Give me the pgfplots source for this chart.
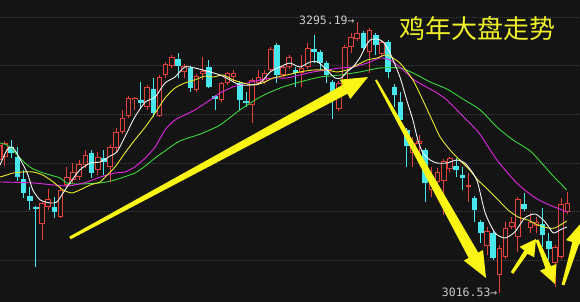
\documentclass[border=0pt]{standalone}
\usepackage{pgfplots}
\pgfplotsset{compat=1.18}
\usepackage{pgfplotstable}
\usepackage{fontspec}
\newfontfamily\cjk{Noto Sans CJK SC}
\newfontfamily\monofont{DejaVu Sans Mono}

\definecolor{bg}{RGB}{20,20,20}
\definecolor{gridc}{RGB}{64,64,64}
\definecolor{upred}{RGB}{226,66,58}
\definecolor{downcyan}{RGB}{70,232,238}
\definecolor{ma5}{RGB}{245,245,245}
\definecolor{ma10}{RGB}{235,235,50}
\definecolor{ma20}{RGB}{225,40,225}
\definecolor{ma30}{RGB}{60,215,60}
\definecolor{arrowy}{RGB}{250,245,20}
\definecolor{titley}{RGB}{240,240,40}
\definecolor{labelgray}{RGB}{200,200,200}

% rising days: index, open, high, low, close
\pgfplotstableread{
x o h l c
-1 3153.3 3173.9 3148.2 3168.7
0 3156.4 3172.9 3147.2 3170.8
6 3087.5 3110.1 3071.1 3109.1
7 3105.0 3123.5 3101.9 3113.2
9 3094.7 3125.6 3093.7 3122.5
10 3127.6 3146.1 3125.6 3135.8
11 3132.8 3150.2 3129.7 3141.0
12 3135.8 3153.3 3132.8 3149.2
13 3148.2 3163.6 3145.1 3158.5
15 3143.0 3161.5 3137.9 3156.4
17 3146.1 3168.7 3130.7 3166.7
18 3165.7 3186.2 3161.5 3182.1
19 3182.1 3204.7 3180.0 3196.5
20 3198.6 3219.1 3196.5 3217.1
21 3215.0 3218.1 3204.7 3217.1
23 3207.8 3230.4 3204.7 3228.4
25 3198.6 3240.7 3197.5 3238.6
26 3240.7 3254.1 3237.6 3252.0
27 3250.0 3261.3 3247.9 3259.2
29 3243.8 3252.0 3237.6 3250.0
31 3225.3 3241.7 3223.2 3239.7
32 3241.7 3259.2 3235.6 3244.8
35 3215.0 3233.5 3212.9 3232.5
36 3232.5 3243.8 3230.4 3242.8
37 3238.6 3245.8 3233.5 3242.8
40 3209.9 3237.6 3191.4 3235.6
41 3232.5 3245.8 3230.4 3238.6
42 3233.5 3245.8 3231.4 3242.8
43 3245.8 3269.5 3243.8 3267.4
45 3240.7 3251.0 3238.6 3248.9
46 3248.9 3261.3 3246.9 3259.2
48 3242.8 3261.3 3228.4 3247.9
49 3248.9 3273.6 3246.9 3268.5
54 3205.7 3234.5 3203.7 3232.5
55 3233.5 3271.5 3231.4 3269.5
56 3269.5 3283.9 3263.3 3279.8
57 3277.7 3295.19 3275.7 3283.9
59 3264.3 3289.0 3242.8 3287.0
61 3262.3 3276.7 3260.2 3274.6
66 3160.5 3177.0 3146.1 3170.8
67 3169.8 3179.0 3156.4 3172.9
69 3122.5 3146.1 3115.3 3132.8
70 3130.7 3145.1 3128.6 3141.0
71 3131.7 3154.3 3096.8 3152.3
72 3144.1 3156.4 3141.0 3155.4
75 3125.6 3139.9 3110.1 3127.6
78 3064.9 3084.4 3055.7 3080.3
80 3035.1 3065.9 3016.53 3062.9
81 3053.6 3089.6 3051.5 3083.4
82 3084.4 3094.7 3082.4 3089.6
83 3074.2 3115.3 3058.7 3113.2
85 3083.4 3098.8 3078.3 3089.6
86 3085.5 3094.7 3078.3 3089.6
89 3047.4 3065.9 3022.8 3063.9
90 3053.6 3114.3 3051.5 3108.1
91 3099.9 3120.4 3097.8 3109.1
}\uptab

% falling days: index, open, high, low, close
\pgfplotstableread{
x o h l c
1 3166.7 3173.9 3155.4 3160.5
2 3156.4 3166.7 3131.7 3135.8
3 3133.8 3143.0 3114.3 3119.4
4 3116.3 3125.6 3101.9 3111.2
5 3105.0 3106.0 3043.3 3102.9
8 3105.0 3115.3 3093.7 3099.9
14 3160.5 3163.6 3134.8 3139.9
16 3155.4 3163.6 3137.9 3151.3
22 3215.0 3233.5 3205.7 3211.9
24 3226.3 3237.6 3197.5 3201.6
28 3257.1 3263.3 3237.6 3250.0
30 3247.9 3250.0 3223.2 3227.3
33 3248.9 3256.1 3227.3 3228.4
34 3219.1 3220.1 3204.7 3216.0
38 3232.5 3234.5 3204.7 3215.0
39 3214.0 3223.2 3207.8 3211.9
44 3271.5 3273.6 3232.5 3240.7
47 3245.8 3248.9 3228.4 3242.8
50 3267.4 3281.8 3253.0 3264.3
51 3264.3 3266.4 3245.8 3253.0
52 3253.0 3255.1 3232.5 3240.7
53 3233.5 3235.6 3195.5 3215.0
58 3283.9 3285.9 3266.4 3268.5
60 3281.8 3283.9 3261.3 3271.5
62 3274.6 3276.7 3237.6 3243.8
63 3228.4 3231.4 3207.8 3220.1
64 3212.9 3223.2 3186.2 3194.4
65 3184.2 3186.2 3146.1 3167.7
68 3163.6 3165.7 3110.1 3129.7
73 3147.2 3155.4 3135.8 3143.0
74 3137.9 3146.1 3122.5 3134.8
76 3114.3 3116.3 3089.6 3101.9
77 3089.6 3091.6 3068.0 3078.3
79 3078.3 3080.3 3050.5 3052.6
84 3108.1 3119.4 3100.9 3102.9
87 3087.5 3104.0 3063.9 3076.2
88 3070.1 3078.3 3050.5 3061.8
}\downtab

\begin{document}
\begin{tikzpicture}
\begin{axis}[
  width=580pt, height=302pt, scale only axis,
  xmin=-0.809, xmax=93.04, ymin=3007.3, ymax=3317.8,
  axis line style={draw=none},
  xtick=\empty, ytick={3050,3100,...,3300}, yticklabels={},
  major tick length=0pt,
  ymajorgrids,
  grid style={gridc, line width=0.9pt, dash pattern=on 1pt off 1pt},
  axis background/.style={fill=bg},
]

% wicks
\addplot[draw=none, mark=none, forget plot,
  error bars/.cd, y dir=plus, y explicit, error mark=none,
  error bar style={draw=upred, line width=1pt}]
  table[x=x, y=l, y error plus expr={\thisrow{h}-\thisrow{l}}] {\uptab};
\addplot[draw=none, mark=none, forget plot,
  error bars/.cd, y dir=plus, y explicit, error mark=none,
  error bar style={draw=downcyan, line width=1pt}]
  table[x=x, y=l, y error plus expr={\thisrow{h}-\thisrow{l}}] {\downtab};

% rising bodies: red outline, hollow
\addplot[draw=none, mark=none, forget plot,
  error bars/.cd, y dir=plus, y explicit, error mark=none,
  error bar style={draw=upred, line width=5.6pt}]
  table[x=x, y=o, y error plus expr={max(\thisrow{c}-\thisrow{o},1.03)}] {\uptab};
\addplot[draw=none, mark=none, forget plot,
  error bars/.cd, y dir=plus, y explicit, error mark=none,
  error bar style={draw=bg, line width=3.6pt}]
  table[x=x, y expr={\thisrow{o}+1.03}, y error plus expr={max(\thisrow{c}-\thisrow{o}-2.06,0)}] {\uptab};

% falling bodies: filled cyan
\addplot[draw=none, mark=none, forget plot,
  error bars/.cd, y dir=plus, y explicit, error mark=none,
  error bar style={draw=downcyan, line width=5.6pt}]
  table[x=x, y=c, y error plus expr={max(\thisrow{o}-\thisrow{c},1.03)}] {\downtab};

% moving averages
\addplot[ma30, line width=0.9pt, smooth, tension=0.4] coordinates {
(-0.8,3170.8) (0.3,3168.7) (1.3,3163.6) (2.4,3155.4) (4.0,3146.1) (5.7,3141.0)
(7.3,3137.9) (8.9,3134.8) (10.0,3129.7) (11.7,3128.6) (15.4,3129.7) (17.8,3132.8)
(21.0,3139.9) (22.7,3147.2) (24.3,3155.4) (25.9,3162.6) (28.3,3172.9) (31.6,3180.0)
(34.8,3189.3) (38.0,3204.7) (41.3,3218.1) (44.5,3227.3) (47.7,3233.5) (51.0,3238.6)
(54.2,3240.7) (57.4,3243.8) (60.7,3247.9) (63.9,3247.9) (66.0,3242.8) (68.8,3233.5)
(71.5,3226.3) (74.1,3216.0) (76.9,3204.7) (79.6,3187.2) (82.2,3173.9) (85.0,3162.6)
(87.4,3146.1) (89.0,3134.8) (90.9,3122.5)};
\addplot[ma20, line width=0.9pt, smooth, tension=0.4] coordinates {
(-0.8,3130.7) (4.5,3129.7) (10.0,3126.6) (13.3,3130.7) (15.4,3135.8) (17.8,3139.9)
(19.4,3141.0) (21.0,3146.1) (22.7,3155.4) (24.3,3166.7) (25.9,3184.2) (27.5,3194.4)
(29.1,3199.6) (30.7,3204.7) (33.2,3215.0) (34.8,3222.2) (36.9,3228.4) (39.2,3232.5)
(41.3,3235.6) (43.4,3237.6) (45.6,3237.6) (47.7,3240.7) (49.8,3243.8) (52.1,3245.8)
(54.2,3247.9) (56.3,3248.9) (58.6,3253.0) (60.7,3258.2) (62.3,3256.1) (63.9,3248.9)
(66.0,3236.6) (67.6,3230.4) (69.9,3222.2) (71.5,3215.0) (73.6,3201.6) (75.2,3191.4)
(76.7,3181.1) (78.5,3163.6) (79.6,3153.3) (81.2,3141.0) (82.8,3129.7) (84.5,3120.4)
(86.1,3113.2) (87.7,3108.1) (89.3,3104.0) (90.9,3099.9)};
\addplot[ma10, line width=0.9pt, smooth, tension=0.4] coordinates {
(-0.8,3135.8) (0.3,3137.9) (1.3,3139.9) (2.9,3141.0) (4.5,3141.0) (6.1,3137.9)
(7.8,3130.7) (9.4,3122.5) (10.8,3119.4) (12.1,3122.5) (13.8,3127.6) (15.4,3130.7)
(16.2,3135.8) (17.8,3146.1) (19.4,3160.5) (21.0,3173.9) (22.7,3187.2) (24.3,3201.6)
(25.9,3217.1) (27.5,3227.3) (29.1,3232.5) (30.7,3235.6) (32.4,3239.7) (33.7,3238.6)
(35.3,3240.7) (36.9,3235.6) (38.5,3232.5) (40.1,3230.4) (41.7,3232.5) (43.4,3237.6)
(45.6,3240.7) (47.7,3243.8) (49.8,3245.8) (52.1,3245.8) (53.7,3243.8) (55.3,3245.8)
(57.0,3251.0) (58.6,3256.1) (60.2,3258.2) (61.8,3261.3) (63.9,3253.0) (66.0,3235.6)
(67.6,3215.0) (69.1,3194.4) (70.4,3177.0) (72.0,3163.6) (73.6,3153.3) (75.2,3143.0)
(76.5,3132.8) (78.2,3122.5) (79.8,3112.2) (81.4,3101.9) (83.0,3094.7) (84.6,3091.6)
(86.2,3086.5) (87.9,3083.4) (89.0,3083.4) (90.9,3090.6)};
\addplot[ma5, line width=0.9pt, smooth, tension=0.4] coordinates {
(-0.8,3148.2) (0.3,3163.6) (1.1,3166.7) (1.9,3160.5) (3.6,3139.9) (4.5,3122.5)
(5.7,3112.2) (7.3,3109.1) (8.4,3110.1) (9.4,3119.4) (10.5,3129.7) (12.1,3143.0)
(13.8,3150.2) (15.4,3151.3) (17.0,3157.4) (18.1,3161.5) (19.4,3177.0) (21.0,3197.5)
(22.7,3212.9) (24.3,3218.1) (25.9,3232.5) (27.5,3238.6) (29.1,3248.9) (30.7,3247.9)
(33.2,3243.8) (34.8,3240.7) (36.4,3235.6) (38.0,3230.4) (39.6,3230.4) (41.3,3232.5)
(42.9,3243.8) (44.5,3248.9) (46.1,3253.0) (47.7,3248.9) (49.4,3254.1) (50.6,3254.1)
(52.1,3245.8) (53.4,3237.6) (54.4,3237.6) (55.3,3243.8) (56.3,3248.9) (57.4,3258.2)
(58.3,3269.5) (59.1,3276.7) (60.2,3277.7) (61.2,3274.6) (62.3,3263.3) (63.9,3238.6)
(65.0,3215.0) (66.0,3194.4) (66.8,3173.9) (67.6,3160.5) (68.8,3153.3) (69.9,3150.2)
(71.5,3150.2) (73.1,3153.3) (74.4,3150.2) (75.7,3139.9) (76.5,3129.7) (77.7,3098.8)
(79.3,3078.3) (80.9,3073.1) (82.5,3079.3) (84.1,3093.7) (85.8,3097.8) (87.4,3089.6)
(88.7,3078.3) (89.8,3081.4) (90.9,3084.4)};

% trend arrows
\addplot[fill=arrowy, draw=none] coordinates {
(10.63,3071.8) (55.42,3221.4) (55.87,3216.0) (58.74,3238.6) (54.19,3235.9) (54.64,3230.5) (10.40,3074.5)} --cycle;
\addplot[fill=arrowy, draw=none] coordinates {
(60.17,3236.1) (76.57,3058.1) (77.35,3060.8) (77.83,3032.0) (74.24,3049.9) (75.02,3052.6) (59.89,3235.1)} --cycle;
\addplot[fill=arrowy, draw=none] coordinates {
(82.23,3036.2) (84.55,3056.9) (85.63,3053.3) (85.92,3072.1) (83.25,3064.0) (84.05,3060.4) (81.84,3038.1)} --cycle;
\addplot[fill=arrowy, draw=none] coordinates {
(86.31,3071.7) (88.35,3044.1) (89.24,3046.5) (89.00,3025.8) (86.55,3039.5) (87.44,3041.9) (85.86,3070.5)} --cycle;
\addplot[fill=arrowy, draw=none] coordinates {
(90.52,3024.4) (92.88,3066.9) (93.88,3064.9) (93.37,3089.6) (90.78,3070.9) (91.80,3068.9) (90.07,3025.2)} --cycle;

% high / low markers and title
\node[anchor=east, inner sep=0pt, text=labelgray,
  font=\monofont\fontsize{11.5}{11.5}\selectfont]
  at (axis cs:56.6,3297.2) {3295.19→};
\node[anchor=east, inner sep=0pt, text=labelgray,
  font=\monofont\fontsize{11.5}{11.5}\selectfont]
  at (axis cs:79.7,3017.6) {3016.53→};
\node[inner sep=0pt, text=titley, font=\cjk\fontsize{26}{26}\selectfont]
  at (axis cs:76.4,3288.0) {鸡年大盘走势};
\end{axis}
\pgfresetboundingbox
\path[use as bounding box] (current axis.south west) rectangle (current axis.north east);
\end{tikzpicture}
\end{document}
